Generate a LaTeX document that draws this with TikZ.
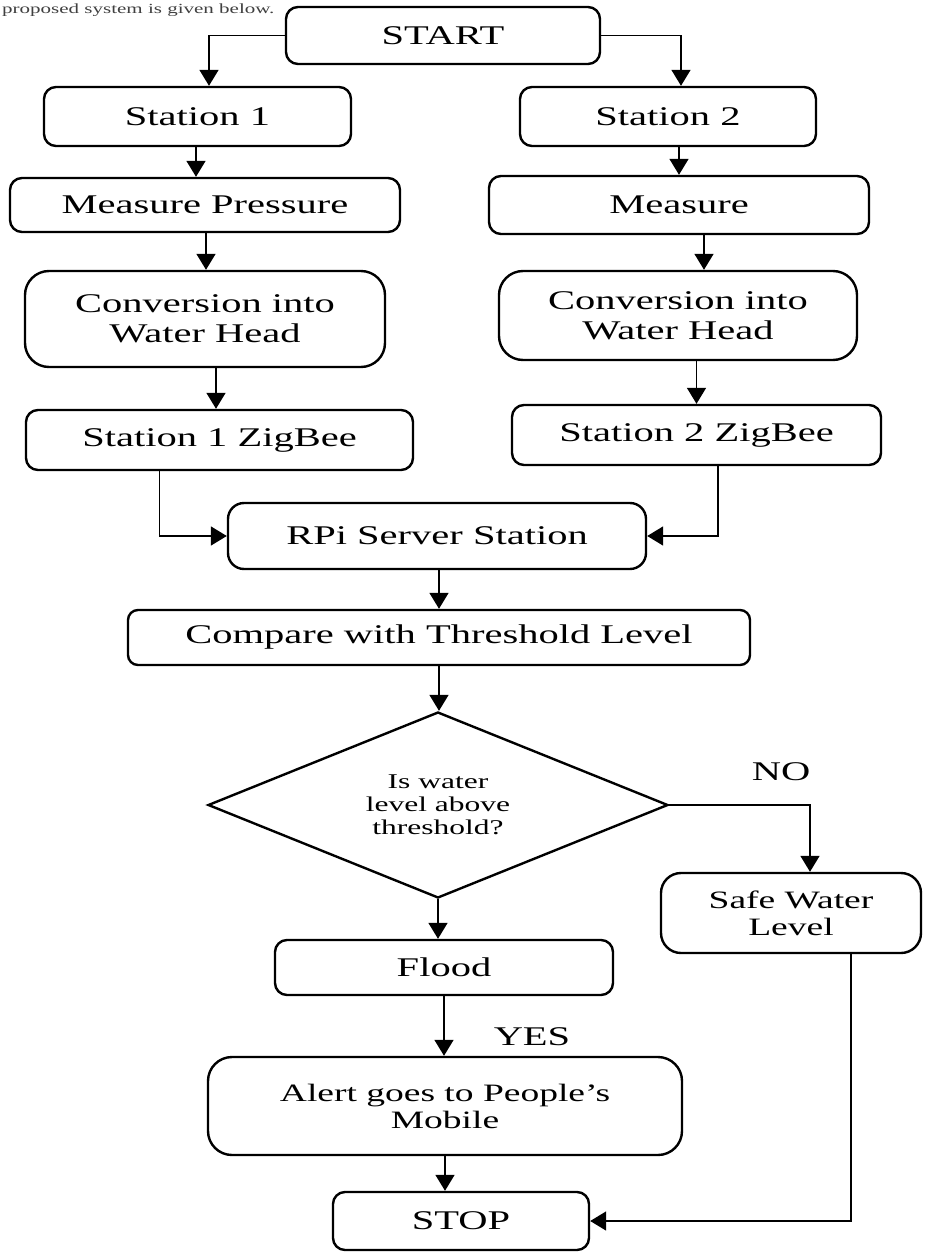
\documentclass[tikz,border=0pt]{standalone}
\usepackage{fontspec}
\setmainfont{Liberation Serif}[FakeStretch=1.5]
\usetikzlibrary{arrows.meta,shapes.geometric}
\begin{document}
\begin{tikzpicture}[x=1pt,y=-1pt,
  box/.style={draw, line width=2.4pt, rounded corners=12pt, align=center, inner sep=0pt,
              font=\fontsize{27pt}{30pt}\selectfont},
  arr/.style={line width=1.6pt, -{Triangle[length=16pt,width=19pt]}},
  conn/.style={line width=1.6pt},
  lbl/.style={font=\fontsize{27pt}{30pt}\selectfont, inner sep=0pt}]
\useasboundingbox (0,0) rectangle (924,1252);
\fill[white] (0,0) rectangle (924,1252);

% caption line at the top
\node[inner sep=0pt, anchor=base west, text=black!75, font=\fontsize{14pt}{16pt}\selectfont] (intro) at (2,14) {proposed system is given below.};

% boxes
\node[box, minimum width=314pt, minimum height=57pt] (start) at (443,35.5) {START};
\node[box, minimum width=307pt, minimum height=59pt] (st1) at (197.5,116.5) {Station 1};
\node[box, minimum width=296pt, minimum height=59pt] (st2) at (668,116.5) {Station 2};
\node[box, minimum width=390pt, minimum height=54pt] (mp) at (205,205) {Measure Pressure};
\node[box, minimum width=380pt, minimum height=58pt] (m2) at (679,205) {Measure};
\node[box, rounded corners=24pt, minimum width=360pt, minimum height=96pt] (cl) at (205,319) {Conversion into\\Water Head};
\node[box, rounded corners=24pt, minimum width=358pt, minimum height=89pt] (cr) at (678,315.5) {Conversion into\\Water Head};
\node[box, minimum width=387pt, minimum height=60pt] (zl) at (219.5,440) {Station 1 ZigBee};
\node[box, minimum width=369pt, minimum height=60pt] (zr) at (696.5,435) {Station 2 ZigBee};
\node[box, rounded corners=16pt, minimum width=418pt, minimum height=66pt] (rpi) at (437,536) {RPi Server Station};
\node[box, rounded corners=10pt, minimum width=622pt, minimum height=55pt] (cmp) at (439,637.5) {Compare with Threshold Level};
\node[draw, line width=2.4pt, shape=diamond, aspect=2.47, minimum width=460pt, minimum height=186pt,
      inner sep=0pt, align=center, font=\fontsize{21pt}{23pt}\selectfont] (dia) at (438,805) {Is water\\level above\\threshold?};
\node[box, minimum width=338pt, minimum height=55pt] (fl) at (444,967.5) {Flood};
\node[box, rounded corners=20pt, minimum width=260pt, minimum height=80pt,
      font=\fontsize{25pt}{27pt}\selectfont] (sf) at (791,913) {Safe Water\\Level};
\node[box, rounded corners=24pt, minimum width=474pt, minimum height=98pt,
      font=\fontsize{25pt}{27pt}\selectfont] (al) at (445,1106) {Alert goes to People’s\\Mobile};
\node[box, minimum width=256pt, minimum height=58pt] (stop) at (461,1221) {STOP};

% labels
\node[lbl] (no) at (781,772) {NO};
\node[lbl] (yes) at (532,1037) {YES};

% connectors
\draw[arr] (start.west) -| ([xshift=11.5pt]st1.north);
\draw[arr] (start.east) -| ([xshift=13pt]st2.north);
\draw[arr] ([xshift=-1.5pt]st1.south) -- ([xshift=-1.5pt]st1.south |- mp.north);
\draw[arr] (m2.north |- st2.south) -- (m2.north);
\draw[arr] ([xshift=1pt]mp.south) -- ([xshift=1pt]mp.south |- cl.north);
\draw[arr] ([xshift=25pt]m2.south) -- ([xshift=25pt]m2.south |- cr.north);
\draw[arr] ([xshift=11pt]cl.south) -- ([xshift=11pt]cl.south |- zl.north);
\draw[arr] (zr.north |- cr.south) -- (zr.north);
\draw[arr] ([xshift=-60pt]zl.south) |- (rpi.west);
\draw[arr] ([xshift=21.5pt]zr.south) |- (rpi.east);
\draw[arr] ([xshift=2pt]rpi.south) -- ([xshift=2pt]rpi.south |- cmp.north);
\draw[arr] (cmp.south) -- (cmp.south |- dia.north);
\draw[arr] (dia.east) -| ([xshift=19pt]sf.north);
\draw[arr] (dia.south) -- (dia.south |- fl.north);
\draw[arr] (fl.south) -- (fl.south |- al.north);
\draw[arr] (al.south) -- (al.south |- stop.north);
\draw[arr] ([xshift=60pt]sf.south) |- (stop.east);
\end{tikzpicture}
\end{document}
